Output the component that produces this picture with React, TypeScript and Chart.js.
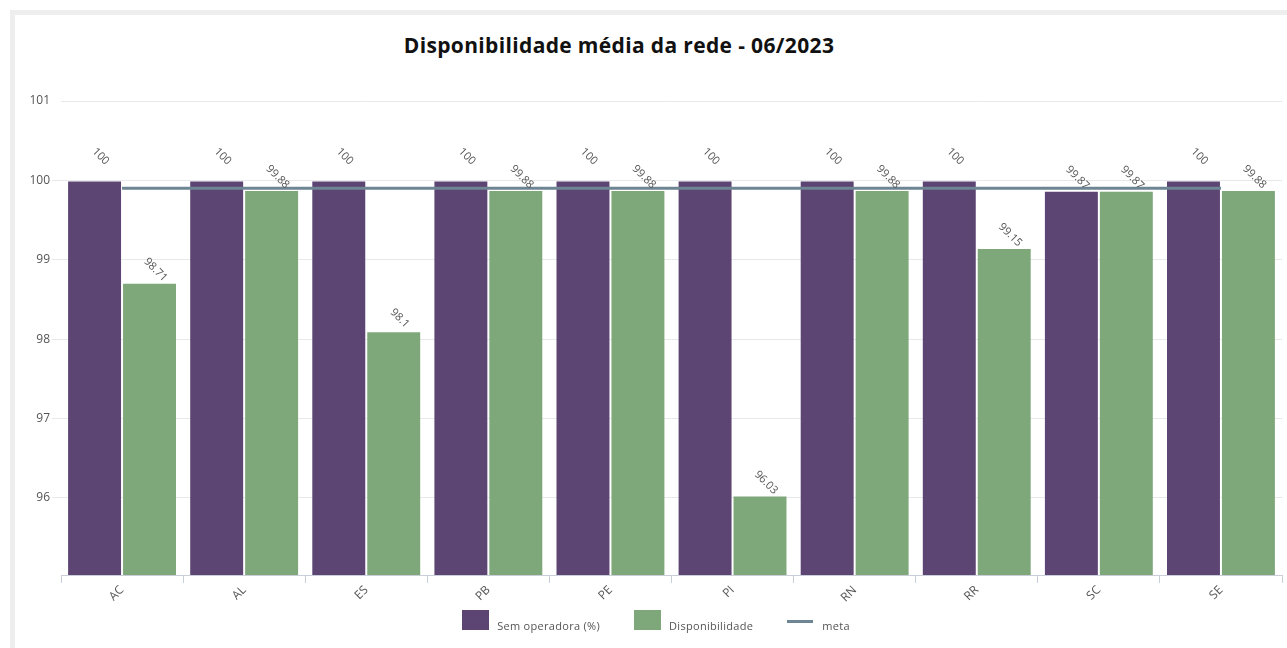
import React, { useEffect, useRef } from "react";
import { Chart, registerables } from "chart.js";

Chart.register(...registerables);

const titleText = "Disponibilidade média da rede - 06/2023";
const categories = ["AC", "AL", "ES", "PB", "PE", "PI", "RN", "RR", "SC", "SE"];
const semOperadora = [100, 100, 100, 100, 100, 100, 100, 100, 99.87, 100];
const disponibilidade = [98.71, 99.88, 98.1, 99.88, 99.88, 96.03, 99.88, 99.15, 99.87, 99.88];
const meta = [99.9, 99.9, 99.9, 99.9, 99.9, 99.9, 99.9, 99.9, 99.9, 99.9];
const yTicks = [96, 97, 98, 99, 100, 101];
const yMin = 95.03;
const yMax = 101;
const seriesNames = ["Sem operadora (%)", "Disponibilidade", "meta"];

const PURPLE = "#5c4573";
const GREEN = "#7ea77a";
const META = "#6e8593";
const FONT = "'Open Sans', sans-serif";

const valueLabels = {
  id: "valueLabels",
  afterDatasetsDraw(chart: any) {
    const ctx = chart.ctx;
    ctx.save();
    ctx.font = `11px ${FONT}`;
    ctx.fillStyle = "#555";
    ctx.textAlign = "center";
    ctx.textBaseline = "middle";
    [0, 1].forEach((di) => {
      const metaDs = chart.getDatasetMeta(di);
      const values = chart.data.datasets[di].data as number[];
      metaDs.data.forEach((el: any, i: number) => {
        const v = values[i];
        const extra = Number.isInteger(v) ? 11 : 0;
        ctx.save();
        ctx.translate(el.x + 6, el.y - 13 - extra);
        ctx.rotate(Math.PI / 4);
        ctx.fillText(String(v), 0, 0);
        ctx.restore();
      });
    });
    ctx.restore();
  },
};

export default function App() {
  const ref = useRef<HTMLCanvasElement | null>(null);

  useEffect(() => {
    if (!ref.current) return;
    const chart = new Chart(ref.current, {
      type: "bar",
      data: {
        labels: categories,
        datasets: [
          {
            type: "bar",
            label: seriesNames[0],
            data: semOperadora,
            backgroundColor: PURPLE,
            borderColor: "rgba(255,255,255,0.18)",
            borderWidth: 1,
            categoryPercentage: 0.9,
            barPercentage: 1.0,
            order: 1,
          },
          {
            type: "bar",
            label: seriesNames[1],
            data: disponibilidade,
            backgroundColor: GREEN,
            borderColor: "rgba(255,255,255,0.18)",
            borderWidth: 1,
            categoryPercentage: 0.9,
            barPercentage: 1.0,
            order: 1,
          },
          {
            type: "line",
            label: seriesNames[2],
            data: meta,
            borderColor: META,
            backgroundColor: META,
            borderWidth: 3,
            pointRadius: 0,
            tension: 0,
            order: 0,
          },
        ] as any,
      },
      options: {
        animation: false,
        responsive: false,
        devicePixelRatio: 1,
        layout: { padding: { top: 86, left: 0, right: 5, bottom: 33 } },
        plugins: {
          legend: { display: false },
          title: { display: false },
          tooltip: { enabled: false },
        },
        scales: {
          x: {
            offset: true,
            grid: {
              offset: true,
              drawOnChartArea: false,
              drawTicks: true,
              tickLength: 8,
              color: "#c9ced8",
            },
            border: { display: true, color: "#c9ced8", width: 1 },
            ticks: {
              minRotation: 45,
              maxRotation: 45,
              color: "#555",
              font: { size: 12, family: FONT },
              padding: 0,
            },
            afterFit: (s: any) => {
              s.height = 40;
            },
          },
          y: {
            min: yMin,
            max: yMax,
            afterBuildTicks: (s: any) => {
              s.ticks = yTicks.map((v) => ({ value: v }));
            },
            grid: {
              color: "#e6e8ec",
              tickLength: 9,
              tickColor: (c: any) => (c.tick && c.tick.value === yMax ? "rgba(0,0,0,0)" : "#e6e8ec"),
            },
            border: { display: false },
            ticks: {
              color: "#555",
              font: { size: 12, family: FONT },
              padding: 2,
            },
            afterFit: (s: any) => {
              s.width = 46;
            },
          },
        },
      },
      plugins: [valueLabels],
    } as any);
    return () => chart.destroy();
  }, []);

  const legendColors = [PURPLE, GREEN, META];

  return (
    <div style={{ position: "fixed", inset: 0, overflow: "hidden", background: "#fff" }}>
      <div
        style={{
          position: "absolute",
          left: 10,
          top: 10,
          width: 1400,
          height: 800,
          border: "5px solid #eeeeee",
          boxSizing: "border-box",
        }}
      />
      <div
        style={{
          position: "absolute",
          left: 0,
          top: 33,
          width: 1238,
          textAlign: "center",
          fontFamily: FONT,
          fontWeight: 700,
          fontSize: 21,
          letterSpacing: "0.35px",
          lineHeight: "24px",
          color: "#111",
          whiteSpace: "nowrap",
        }}
      >
        {titleText}
      </div>
      <canvas
        ref={ref}
        width={1272}
        height={633}
        style={{ position: "absolute", left: 15, top: 15, width: 1272, height: 633 }}
      />
      <div
        style={{
          position: "absolute",
          left: 0,
          top: 610,
          width: 1312,
          display: "flex",
          justifyContent: "center",
          alignItems: "center",
          gap: 34,
          fontFamily: FONT,
          fontSize: 11,
          letterSpacing: "0.3px",
          color: "#555",
        }}
      >
        {seriesNames.map((name, i) => (
          <div key={name} style={{ display: "flex", alignItems: "center", height: 20 }}>
            {i < 2 ? (
              <div style={{ width: 27, height: 20, background: legendColors[i] }} />
            ) : (
              <div style={{ width: 26, height: 3, background: legendColors[i], marginTop: 2 }} />
            )}
            <span style={{ marginLeft: i < 2 ? 8 : 9, position: "relative", top: 5 }}>{name}</span>
          </div>
        ))}
      </div>
    </div>
  );
}
